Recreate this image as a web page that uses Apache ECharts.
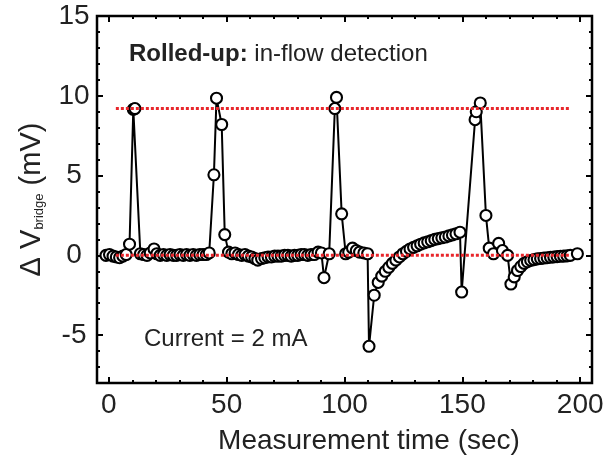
<!DOCTYPE html>
<html>
<head>
<meta charset="utf-8">
<script src="https://cdn.jsdelivr.net/npm/echarts@6/dist/echarts.min.js"></script>
<style>
  html, body { margin: 0; padding: 0; background: #fff; }
  #chart { width: 608px; height: 461px; }
</style>
</head>
<body>
<div id="chart"></div>
<script>
// Bridge voltage change ΔV_bridge (mV) against measurement time (s),
// split into the stretches between and around each passing object.
const spike1 = [[-1.2,0.0],[0.3,0.05],[1.8,-0.05],[3.2,-0.1],[4.6,-0.15],[6.0,-0.05],[7.4,0.05],
  [8.8,0.7],[10.4,9.15],[11.1,9.2],[13.4,0.1]];
const quiet1 = [[14.8,0.05],[16.2,0.0],[17.6,0.15],[19.2,0.4],[20.4,0.1],[21.8,0.0],[23.2,0.05],
  [24.6,0.0],[26.0,0.05],[27.4,0.0],[28.8,0.0],[30.2,0.05],[31.6,0.0],[33.0,0.05],[34.4,0.0],
  [35.8,0.05],[37.2,0.0],[38.6,0.05],[40.0,0.05],[41.4,0.05],[42.6,0.15]];
const spike2 = [[44.6,5.05],[45.7,9.85],[47.9,8.2],[49.2,1.3],[50.8,0.2],[52.2,0.1],[53.6,0.15],
  [55.0,0.05],[56.4,0.0],[57.8,0.05],[59.2,-0.05],[60.6,-0.1],[62.0,-0.2],[63.2,-0.3],[64.8,-0.2],
  [66.2,-0.15],[67.6,-0.1],[69.0,-0.1],[70.4,-0.05],[71.8,-0.05],[73.2,-0.05],[74.6,0.0],[76.0,0.0],
  [77.4,-0.05],[78.8,0.0],[80.2,0.0],[81.6,0.05],[83.0,0.05],[84.4,0.0],[85.8,0.05],[87.2,0.05],
  [88.8,0.2]];
const spike3 = [[90.2,0.15],[91.3,-1.4],[93.5,0.1],[95.9,9.2],[96.6,9.9],[98.8,2.6],[100.5,0.1],
  [101.8,0.2],[103.4,0.45],[105.0,0.3],[106.4,0.2],[108.2,0.15],[109.8,0.1]];
const dip1 = [[110.4,-5.7],[112.6,-2.5],[114.3,-1.7],[115.8,-1.3],[117.3,-1.0],[118.8,-0.75],
  [120.3,-0.5],[121.8,-0.3],[123.3,-0.1],[124.8,0.1],[126.3,0.25],[127.8,0.4],[129.3,0.5],
  [130.8,0.6],[132.3,0.7],[133.8,0.78],[135.3,0.85],[136.8,0.92],[138.3,1.0],[139.8,1.05],
  [141.3,1.1],[142.8,1.15],[144.3,1.22],[145.8,1.28],[147.3,1.35],[149.0,1.45],[149.7,-2.3]];
const spike4 = [[155.4,8.5],[155.9,9.0],[157.6,9.55],[160.0,2.5],[161.4,0.45],[163.2,0.1],
  [165.4,0.75],[167.0,0.3],[169.2,0.0]];
const recovery2 = [[170.6,-1.8],[172.0,-1.35],[173.4,-0.95],[174.8,-0.7],[176.2,-0.5],[177.6,-0.4],
  [179.0,-0.32],[180.4,-0.27],[181.8,-0.22],[183.2,-0.2],[184.6,-0.17],[186.0,-0.15],[187.4,-0.12],
  [188.8,-0.1],[190.2,-0.08],[191.6,-0.06],[193.0,-0.05],[194.4,-0.03],[195.8,0.0],[198.8,0.1]];

// Reference levels (mV) drawn as red dotted lines, and their time span (s)
const refLevels = [9.2, 0];
const refSpan = [3, 195.5];

// Axis ticks
const xMajorTicks = [0, 50, 100, 150, 200];
const xMinorTicks = [10, 20, 30, 40, 60, 70, 80, 90, 110, 120, 130, 140, 160, 170, 180, 190];
const yMajorTicks = [-5, 0, 5, 10, 15];
const yMinorTicks = [-7, -6, -4, -3, -2, -1, 1, 2, 3, 4, 6, 7, 8, 9, 11, 12, 13, 14];

const readings = [].concat(spike1, quiet1, spike2, spike3, dip1, spike4, recovery2);

const FONT = 'Liberation Sans, Arial, Helvetica, sans-serif';
const TXT = '#222';

function axisDef(dim, pos, ticks, len, withLabels) {
  const range = dim === 'x' ? { min: -5, max: 205 } : { min: -8, max: 15 };
  const a = {
    type: 'value', position: pos, min: range.min, max: range.max,
    axisLine: { show: false, onZero: false },
    splitLine: { show: false },
    axisTick: { show: true, inside: true, length: len, customValues: ticks,
      lineStyle: { color: '#000', width: 2 } },
    axisLabel: { show: false }
  };
  if (withLabels) {
    a.axisLabel = {
      show: true, customValues: ticks, fontFamily: FONT, fontSize: 28, color: TXT,
      margin: dim === 'x' ? 8 : 23, align: 'center'
    };
  }
  return a;
}

const xAxes = [
  axisDef('x', 'bottom', xMajorTicks, 6, true),
  axisDef('x', 'bottom', xMinorTicks, 3, false),
  axisDef('x', 'top', xMajorTicks, 6, false),
  axisDef('x', 'top', xMinorTicks, 3, false)
];
xAxes[0].name = 'Measurement time (sec)';
xAxes[0].nameLocation = 'middle';
xAxes[0].nameGap = 44;
xAxes[0].nameTextStyle = { fontFamily: FONT, fontSize: 28, color: TXT, padding: [0, 0, 0, 49] };

const yAxes = [
  axisDef('y', 'left', yMajorTicks, 6, true),
  axisDef('y', 'left', yMinorTicks, 3, false),
  axisDef('y', 'right', yMajorTicks, 6, false),
  axisDef('y', 'right', yMinorTicks, 3, false)
];
yAxes[0].name = '{d|Δ V}{s|bridge}{d| (mV)}';
yAxes[0].nameLocation = 'middle';
yAxes[0].nameRotate = 90;
yAxes[0].nameGap = 51;
yAxes[0].nameTextStyle = {
  rich: {
    d: { fontFamily: FONT, fontSize: 29, color: TXT, lineHeight: 34, verticalAlign: 'bottom' },
    s: { fontFamily: FONT, fontSize: 13, color: TXT, lineHeight: 14, verticalAlign: 'bottom' }
  }
};

const series = [{
  type: 'line',
  data: readings,
  xAxisIndex: 0, yAxisIndex: 0,
  symbol: 'circle', symbolSize: 11, showAllSymbol: true,
  lineStyle: { color: '#000', width: 2 },
  itemStyle: { color: '#fff', borderColor: '#000', borderWidth: 2.1 },
  z: 2
}];
refLevels.forEach(function (v) {
  series.push({
    type: 'line',
    data: [[refSpan[0], v], [refSpan[1], v]],
    xAxisIndex: 0, yAxisIndex: 0,
    symbol: 'none', silent: true,
    lineStyle: { color: '#e8262b', width: 3, type: [3, 2] },
    z: 5
  });
});

const chart = echarts.init(document.getElementById('chart'), null, { renderer: 'canvas' });
chart.setOption({
  animation: false,
  backgroundColor: '#fff',
  grid: { left: 97, right: 16, top: 16, bottom: 78, show: true, borderColor: '#000', borderWidth: 2.5 },
  xAxis: xAxes,
  yAxis: yAxes,
  series: series,
  graphic: [
    {
      type: 'text', x: 129, y: 54, z: 10,
      style: {
        text: '{b|Rolled-up: }{r|in-flow detection}',
        align: 'left', verticalAlign: 'middle',
        rich: {
          b: { fontFamily: FONT, fontSize: 24, fontWeight: 'bold', fill: TXT },
          r: { fontFamily: FONT, fontSize: 24, fill: TXT }
        }
      }
    },
    {
      type: 'text', x: 144, y: 339, z: 10,
      style: {
        text: 'Current = 2 mA', align: 'left', verticalAlign: 'middle',
        fontFamily: FONT, fontSize: 24, fill: TXT
      }
    }
  ]
});
</script>
</body>
</html>
